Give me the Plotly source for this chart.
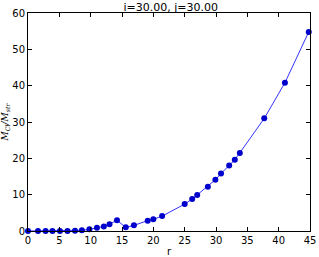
import plotly.graph_objects as go

r_vals = [0.0, 1.6, 2.8, 3.9, 5.1, 6.3, 7.5, 8.6, 9.8, 11.0, 12.1, 13.0, 14.2, 15.6, 16.9,
          19.1, 20.0, 21.4, 25.0, 26.2, 27.0, 28.7, 29.9, 30.8, 32.1, 33.0, 33.8, 37.7, 41.0, 44.8]
m_vals = [0.0, 0.0, 0.0, 0.0, 0.0, 0.02, 0.1, 0.2, 0.45, 0.9, 1.25, 1.85, 2.95, 1.0, 1.55,
          2.85, 3.2, 4.1, 7.4, 8.8, 9.9, 12.2, 14.1, 15.8, 18.0, 19.6, 21.5, 31.0, 40.8, 54.8]
x_ticks = [0, 5, 10, 15, 20, 25, 30, 35, 40, 45]
y_ticks = [0, 10, 20, 30, 40, 50, 60]

fig = go.Figure()
fig.add_trace(go.Scatter(
    x=r_vals, y=m_vals, mode="lines+markers",
    line=dict(color="#3333ff", width=1),
    marker=dict(color="#0000cc", size=6, line=dict(width=0)),
    showlegend=False, cliponaxis=False,
))

axis_common = dict(
    showgrid=False, zeroline=False, showline=True, linecolor="black", linewidth=1,
    mirror="ticks", ticks="inside", ticklen=4, tickcolor="black", automargin=False,
    tickfont=dict(family="DejaVu Sans", size=10, color="black"),
)
fig.update_xaxes(range=[0, 45], tickvals=x_ticks, **axis_common,
                 title=dict(text="r", font=dict(family="DejaVu Sans", size=10, color="black"), standoff=2))
fig.update_yaxes(range=[0, 60], tickvals=y_ticks, **axis_common,
                 title=dict(text="<i>M<sub>Cl</sub>/M<sub>str</sub></i>",
                            font=dict(family="DejaVu Serif", size=9, color="black"), standoff=4))

fig.update_layout(
    width=319, height=257,
    margin=dict(l=28, r=9, t=13, b=26),
    paper_bgcolor="white", plot_bgcolor="white",
    title=dict(text="i=30.00, j=30.00", x=0.535, xanchor="center", y=0.988, yanchor="top",
               font=dict(family="DejaVu Sans", size=11, color="black")),
)

fig.write_html("out.html", config={"displayModeBar": False},
               post_script="document.body.style.margin='0';")
